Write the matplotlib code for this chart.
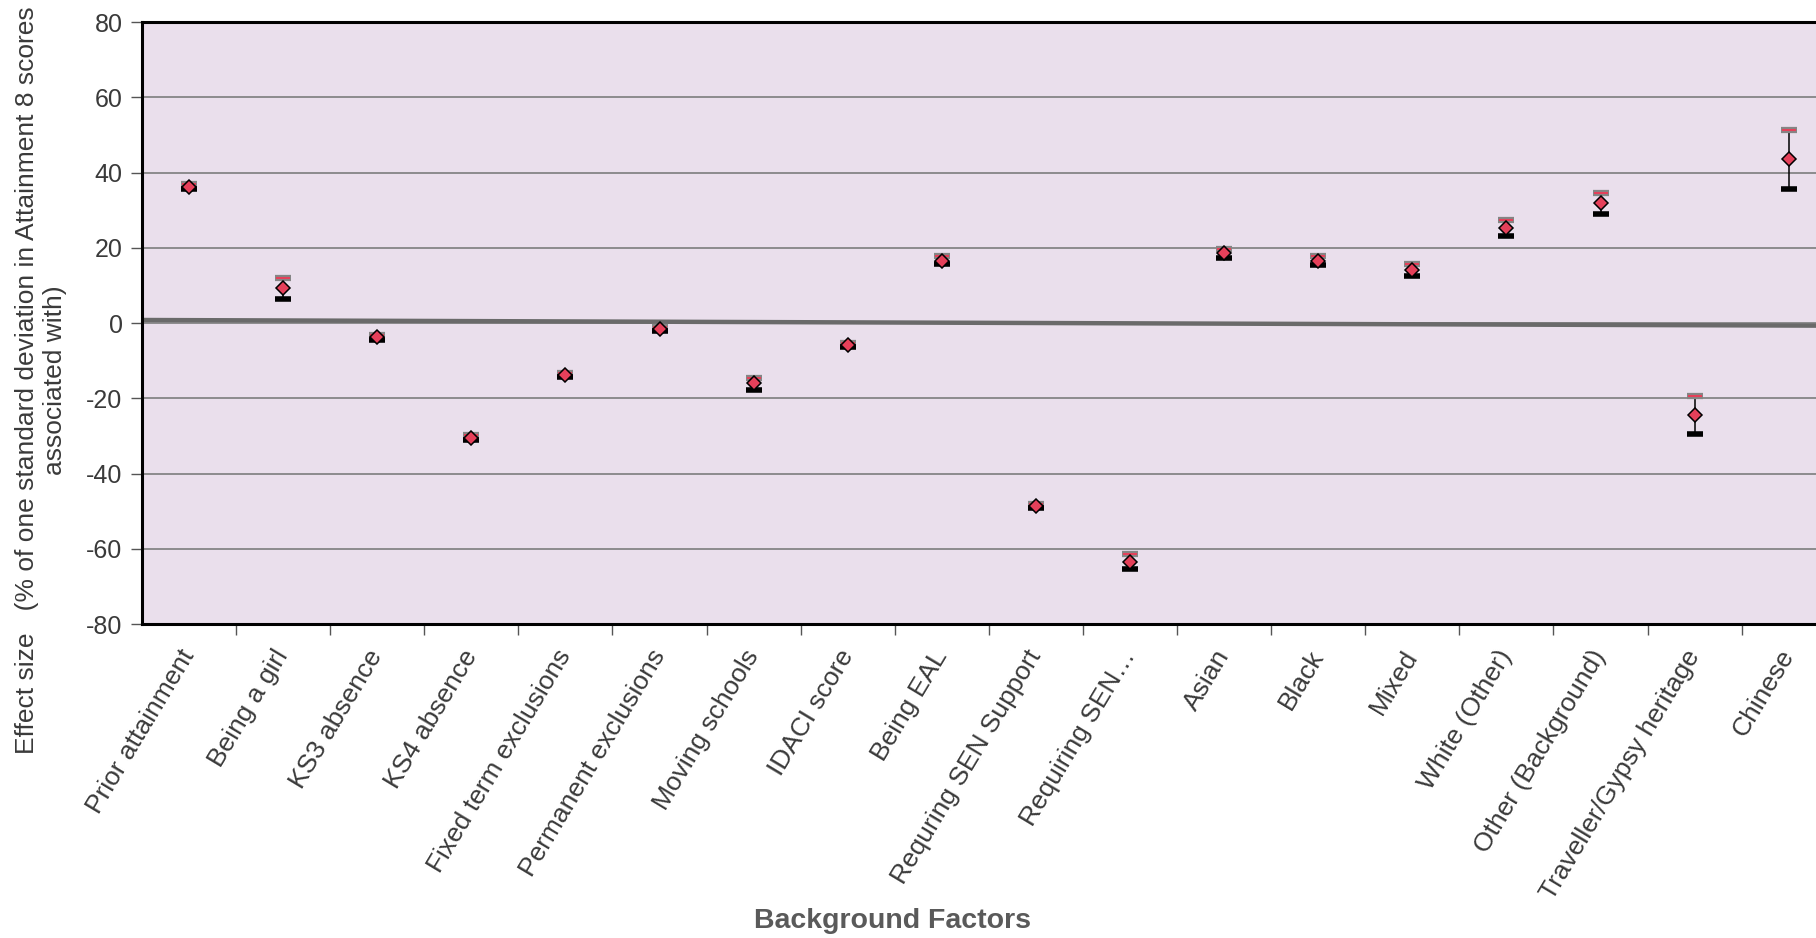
import numpy as np
import matplotlib
matplotlib.use("Agg")
import matplotlib.pyplot as plt

plt.rcParams['font.family'] = ['Liberation Sans', 'DejaVu Sans']
plt.rcParams['axes.unicode_minus'] = False

# background factors and effect sizes (% of one SD in Attainment 8)
factors = ["Prior attainment", "Being a girl", "KS3 absence", "KS4 absence",
           "Fixed term exclusions", "Permanent exclusions", "Moving schools",
           "IDACI score", "Being EAL", "Requring SEN Support", "Requiring SEN…",
           "Asian", "Black", "Mixed", "White (Other)", "Other (Background)",
           "Traveller/Gypsy heritage", "Chinese"]
effect = [36.2, 9.2, -3.8, -30.5, -13.8, -1.5, -16.0, -5.8, 16.6, -48.6,
          -63.4, 18.5, 16.6, 14.0, 25.2, 31.8, -24.5, 43.5]
upper = [37.0, 12.0, -3.2, -29.9, -13.3, -1.0, -14.5, -5.2, 17.8, -48.0,
         -61.5, 19.7, 17.8, 15.7, 27.3, 34.6, -19.4, 51.3]
lower = [35.6, 6.3, -4.4, -31.1, -14.3, -2.0, -17.8, -6.4, 15.7, -49.2,
         -65.5, 17.2, 15.4, 12.4, 23.1, 29.1, -29.5, 35.6]

# slightly sloping reference line near zero
ref_x = [-0.5, 17.3]
ref_y = [0.8, -0.7]

x = np.arange(len(factors))

fig = plt.figure(figsize=(18.16, 9.38), dpi=100)
ax = fig.add_axes([142 / 1816, 314 / 938, 1674 / 1816, 602 / 938])
ax.set_facecolor('#EADFEC')

ax.set_ylim(-80, 80)
ax.set_xlim(-0.5, 17.29)
ax.set_yticks(np.arange(-80, 81, 20))
ax.yaxis.grid(True, color='#858585', linewidth=1.3)
ax.set_axisbelow(True)

ax.plot(ref_x, ref_y, color='#6A6A6A', linewidth=3.2, zorder=2)

# error bars: thin stem, grey/red top cap, black bottom cap
ax.vlines(x, lower, upper, color='black', linewidth=1.1, zorder=3)
ax.plot(x, upper, linestyle='none', marker='_', markersize=11, mew=4.5,
        color='#858585', zorder=3)
ax.plot(x, upper, linestyle='none', marker='_', markersize=10, mew=1.5,
        color='#E5405A', zorder=3)
ax.plot(x, lower, linestyle='none', marker='_', markersize=11, mew=4,
        color='black', zorder=3)
ax.plot(x, effect, linestyle='none', marker='D', markersize=7.5,
        markerfacecolor='#E5405A', markeredgecolor='black', mew=1.1, zorder=4)

for side in ['left', 'bottom', 'top']:
    ax.spines[side].set_linewidth(2.2)
    ax.spines[side].set_color('black')
ax.spines['right'].set_visible(False)

ax.tick_params(axis='y', length=8, width=1, color='#555555', labelsize=18,
               labelcolor='#3A3A3A', pad=6)
ax.set_xticks(np.arange(0.5, len(factors) - 0.5, 1.0))
ax.set_xticklabels([])
ax.tick_params(axis='x', which='major', length=8, width=1, color='#555555')
ax.set_xticks(x, minor=True)
ax.set_xticklabels(factors, minor=True, rotation=59, ha='right', va='center',
                   rotation_mode='anchor', fontsize=19, color='#3A3A3A')
ax.tick_params(axis='x', which='minor', length=0, pad=20)

fig.text(41 / 1816, 1 - 380 / 938,
         "Effect size   (% of one standard deviation in Attainment 8 scores\nassociated with)",
         rotation=90, ha='center', va='center', fontsize=19, color='#3A3A3A',
         linespacing=1.25)
fig.text(892 / 1816, 1 - 921 / 938, "Background Factors", ha='center',
         va='center', fontsize=20.5, fontweight='bold', color='#5A5A5A')

fig.savefig('out.png', dpi=100)
